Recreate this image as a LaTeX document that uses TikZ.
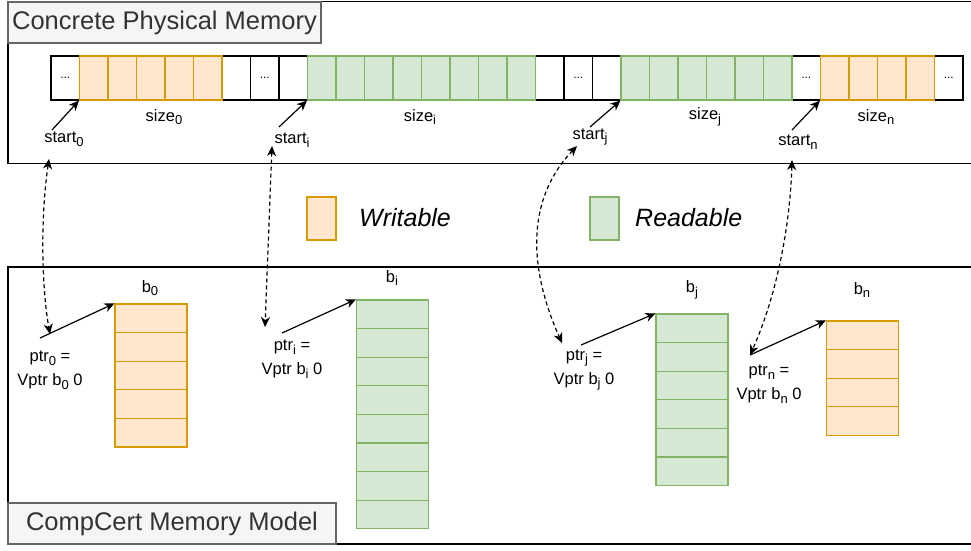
\documentclass[tikz,border=0pt]{standalone}
\usepackage{fontspec}
\setmainfont{Liberation Sans}
\usetikzlibrary{arrows.meta}

\definecolor{wfill}{HTML}{FFE6CC}
\definecolor{wline}{HTML}{D79B00}
\definecolor{rfill}{HTML}{D5E8D4}
\definecolor{rline}{HTML}{82B366}
\definecolor{tfill}{HTML}{F5F5F5}
\definecolor{tline}{HTML}{666666}
\definecolor{ttext}{HTML}{333333}
\newcommand{\lo}[1]{\raisebox{-3.5pt}{\fontsize{13}{13}\selectfont #1}}

\begin{document}
\begin{tikzpicture}[x=1pt,y=-1pt,
  cell/.style={draw=black,fill=white,line width=1.2pt,minimum width=28.5pt,minimum height=44pt,inner sep=0pt,font=\fontsize{12}{12}\selectfont},
  wcell/.style={cell,draw=wline,fill=wfill},
  rcell/.style={cell,draw=rline,fill=rfill},
  blockrow/.style={minimum width=72pt,minimum height=28.6pt},
  lbl/.style={font=\fontsize{16.5}{24}\selectfont,align=center,inner sep=0pt},
  key/.style={font=\fontsize{25}{25}\selectfont\itshape,anchor=west,inner sep=0pt},
  title/.style={draw=tline,fill=tfill,text=ttext,line width=1.2pt,font=\fontsize{25.5}{25.5}\selectfont,inner sep=0pt},
  ptr/.style={-{Stealth[length=10pt,width=9pt,inset=3pt]},line width=1.2pt},
  link/.style={{Stealth[length=10pt,width=9pt,inset=3pt]}-{Stealth[length=10pt,width=9pt,inset=3pt]},line width=1.2pt,dash pattern=on 4pt off 3pt}]
  \useasboundingbox (0,0) rectangle (971,550);

  % frames
  \draw[line width=1.2pt] (980,1.5) -| (8,163.5) -- (980,163.5);
  \draw[line width=1.2pt] (980,267) -| (8,544) -- (980,544);
  \node[title,minimum width=313pt,minimum height=41pt] (phystitle) at (164.5,22.5) {Concrete Physical Memory};
  \node[title,minimum width=328pt,minimum height=41pt] (cctitle) at (172,523.5) {CompCert Memory Model};

  % memory row
  \foreach \k in {6,8,17,19} \node[cell] (c\k) at (65.25+28.5*\k,78) {};
  \foreach \k in {0,7,18,26,31} \node[cell] (c\k) at (65.25+28.5*\k,78) {...};
  \foreach \k in {1,2,3,4,5} \node[wcell] (c\k) at (65.25+28.5*\k,78) {};
  \foreach \k in {27,28,29,30} \node[wcell] (c\k) at (65.25+28.5*\k,78) {};
  \foreach \k in {9,...,16} \node[rcell] (c\k) at (65.25+28.5*\k,78) {};
  \foreach \k in {20,...,25} \node[rcell] (c\k) at (65.25+28.5*\k,78) {};

  \node[lbl] (size0) at (164,117) {size\lo{0}};
  \node[lbl] (sizei) at (420,117) {size\lo{i}};
  \node[lbl] (sizej) at (705,117) {size\lo{j}};
  \node[lbl] (sizen) at (876,117) {size\lo{n}};

  \node[lbl] (start0) at (64,139) {start\lo{0}};
  \node[lbl] (starti) at (292,140) {start\lo{i}};
  \node[lbl] (startj) at (590,137) {start\lo{j}};
  \node[lbl] (startn) at (798,142) {start\lo{n}};

  \coordinate (t0) at (52,130);
  \coordinate (ti) at (279,127);
  \coordinate (tj) at (590,127);
  \coordinate (tn) at (792,130);
  \draw[ptr] (t0) -- (c1.south west);
  \draw[ptr] (ti) -- (c9.south west);
  \draw[ptr] (tj) -- (c20.south west);
  \draw[ptr] (tn) -- (c27.south west);

  % legend
  \node[wcell,minimum width=29pt,minimum height=43pt] (wkey) at (321.5,218.5) {};
  \node[key] (wtext) at (359,218) {Writable};
  \node[rcell,minimum width=29pt,minimum height=43pt] (rkey) at (604.5,218.5) {};
  \node[key] (rtext) at (635,218) {Readable};

  % blocks
  \foreach \r in {1,...,5} \node[wcell,blockrow] (b0-\r) at (151,304+28.6*\r-14.3) {};
  \foreach \r in {1,...,8} \node[rcell,blockrow] (bi-\r) at (392.5,300+28.6*\r-14.3) {};
  \foreach \r in {1,...,6} \node[rcell,blockrow] (bj-\r) at (692,314+28.6*\r-14.3) {};
  \foreach \r in {1,...,4} \node[wcell,blockrow] (bn-\r) at (862.5,321+28.6*\r-14.3) {};

  \node[lbl] (b0) at (150,288) {b\lo{0}};
  \node[lbl] (bi) at (392,278) {b\lo{i}};
  \node[lbl] (bj) at (692,290) {b\lo{j}};
  \node[lbl] (bn) at (862,290) {b\lo{n}};

  \node[lbl] (ptr0) at (50,370) {ptr\lo{0} =\\Vptr b\lo{0} 0};
  \node[lbl] (ptri) at (292,359) {ptr\lo{i} =\\Vptr b\lo{i} 0};
  \node[lbl] (ptrj) at (584,370) {ptr\lo{j} =\\Vptr b\lo{j} 0};
  \node[lbl] (ptrn) at (769,384) {ptr\lo{n} =\\Vptr b\lo{n} 0};

  \coordinate (p0) at (40,338);
  \coordinate (pi) at (282,333);
  \coordinate (pj) at (581,345);
  \coordinate (pn) at (750,355);
  \draw[ptr] (p0) -- (b0-1.north west);
  \draw[ptr] (pi) -- (bi-1.north west);
  \draw[ptr] (pj) -- (bj-1.north west);
  \draw[ptr] (pn) -- (bn-1.north west);

  % links between the two views
  \coordinate (u0) at (49,159);
  \coordinate (v0) at (50,334);
  \coordinate (ui) at (272,146);
  \coordinate (vi) at (265,327);
  \coordinate (uj) at (577,146);
  \coordinate (vj) at (562,343);
  \coordinate (un) at (792,160);
  \coordinate (vn) at (750,355);
  \draw[link] (u0) .. controls (40,220) and (42,290) .. (v0);
  \draw[link] (ui) -- (vi);
  \draw[link] (uj) .. controls (530,195) and (525,260) .. (vj);
  \draw[link] (un) .. controls (790,230) and (775,300) .. (vn);
\end{tikzpicture}
\end{document}
